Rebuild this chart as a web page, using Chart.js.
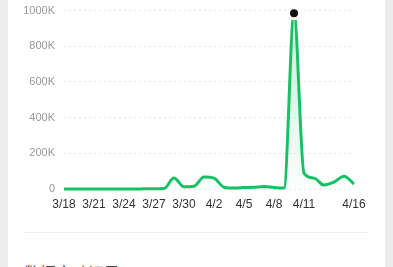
<!DOCTYPE html>
<html>
<head>
<meta charset="utf-8">
<script src="https://cdn.jsdelivr.net/npm/chart.js@4"></script>
<style>
  html, body { margin:0; padding:0; width:393px; height:267px; overflow:hidden; background:#ededed; }
  #panel { position:absolute; left:8px; top:0; width:377px; height:267px; background:#fff; }
  #wrap { position:absolute; left:8px; top:-5px; width:377px; height:225px; }
  #sep { position:absolute; left:24px; top:232px; width:344px; height:1px; background:#f0f0f0; }
  #more { position:absolute; left:24px; top:262px; font-family:"Noto Sans CJK SC", sans-serif; font-size:16px; line-height:20px; color:#444; white-space:nowrap; }
</style>
</head>
<body>
<div id="panel"></div>
<div id="wrap"><canvas id="c" width="377" height="225"></canvas></div>
<div id="sep"></div>
<div id="more">数据变动记录 ›</div>
<script>
const dates = ["3/18","3/19","3/20","3/21","3/22","3/23","3/24","3/25","3/26","3/27",
               "3/28","3/29","3/30","3/31","4/1","4/2","4/3","4/4","4/5","4/6",
               "4/7","4/8","4/9","4/10","4/11","4/12","4/13","4/14","4/15","4/16"];
const values = [0,0,0,0,0,0,0,0,1000,2000,
                3000,62000,12000,15000,67000,61000,10000,5000,8000,10000,
                14000,8000,5000,985000,89000,61000,22000,39000,72000,28000];
const shownTickIndexes = [0,3,6,9,12,15,18,21,24,29];
const highlightIndex = 23;

const ctx = document.getElementById('c').getContext('2d');
new Chart(ctx, {
  type: 'line',
  data: {
    labels: dates,
    datasets: [{
      data: values,
      borderColor: '#16c166',
      borderWidth: 3,
      cubicInterpolationMode: 'monotone',
      fill: true,
      backgroundColor: (context) => {
        const area = context.chart.chartArea;
        if (!area) return 'rgba(22,193,102,0.1)';
        const g = context.chart.ctx.createLinearGradient(0, area.top, 0, area.bottom);
        g.addColorStop(0, 'rgba(22,193,102,0.25)');
        g.addColorStop(1, 'rgba(22,193,102,0.02)');
        return g;
      },
      pointRadius: values.map((v, i) => i === highlightIndex ? 5.5 : 0),
      pointBackgroundColor: '#111',
      pointBorderColor: '#fff',
      pointBorderWidth: 3,
      clip: false
    }]
  },
  options: {
    responsive: false,
    animation: false,
    events: [],
    layout: { padding: { left: 0, right: 31, top: 5, bottom: 0 } },
    plugins: { legend: { display: false }, tooltip: { enabled: false } },
    scales: {
      x: {
        grid: { display: false, drawTicks: false },
        border: { display: false },
        ticks: {
          autoSkip: false,
          maxRotation: 0,
          padding: 8,
          color: '#333',
          font: { family: 'Liberation Sans, Arial, sans-serif', size: 12 },
          callback: function(val, i) { return shownTickIndexes.includes(i) ? dates[i] : ''; }
        },
        afterFit: (s) => { s.height = 31; }
      },
      y: {
        min: 0,
        max: 1000000,
        grid: { color: '#e8e8e8', lineWidth: 1, drawTicks: false },
        border: { display: false, dash: [2, 3] },
        ticks: {
          stepSize: 200000,
          padding: 9,
          color: '#999',
          font: { family: 'Liberation Sans, Arial, sans-serif', size: 11 },
          callback: (v) => v === 0 ? '0' : (v / 1000) + 'K'
        },
        afterFit: (s) => { s.width = 56; }
      }
    }
  }
});
</script>
</body>
</html>
